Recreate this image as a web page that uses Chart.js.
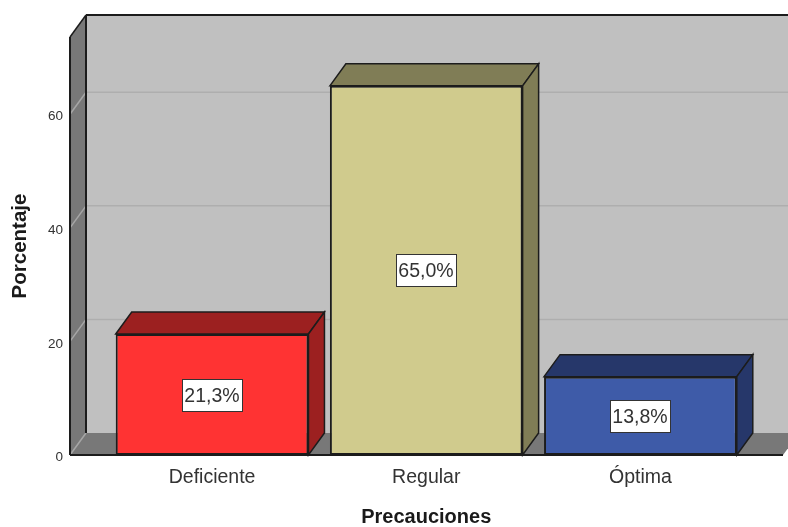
<!DOCTYPE html>
<html>
<head>
<meta charset="utf-8">
<title>Precauciones</title>
<style>
    html, body { margin: 0; padding: 0; background: #fff; }
    #wrap { width: 788px; height: 527px; }
</style>
<script src="https://cdn.jsdelivr.net/npm/chart.js@4/dist/chart.umd.min.js"></script>
</head>
<body>
<div id="wrap"><canvas id="chart" width="788" height="527"></canvas></div>
<script>
// data
const categories = ["Deficiente", "Regular", "Óptima"];
const percentages = [21.3, 65.0, 13.8];
const yTicks = [0, 20, 40, 60];

// colours, same order as categories
const frontColors = ["#FF3333", "#D0CB8D", "#3E5BA8"];
const sideColors = ["#9C2020", "#807D56", "#26376A"];

// depth of the fake 3D box
const DX = 16;
const DY = 22;
const EDGE = "#1c1c1c";

function poly(c, pts, fill, stroke, lw) {
    c.beginPath();
    pts.forEach((p, i) => i ? c.lineTo(p[0], p[1]) : c.moveTo(p[0], p[1]));
    c.closePath();
    if (fill) { c.fillStyle = fill; c.fill(); }
    if (stroke) { c.strokeStyle = stroke; c.lineWidth = lw || 1.5; c.stroke(); }
}

function line(c, x1, y1, x2, y2, color, lw) {
    c.beginPath();
    c.moveTo(x1, y1);
    c.lineTo(x2, y2);
    c.strokeStyle = color;
    c.lineWidth = lw;
    c.stroke();
}

// walls, floor and the side/top faces of the bars
const box3d = {
    id: "box3d",
    beforeDatasetsDraw(chart) {
        const c = chart.ctx;
        const y = chart.scales.y;
        const w = chart.width;
        const left = 70;
        const floorRight = 783;
        const top = chart.chartArea.top;
        const base = y.getPixelForValue(0);

        c.save();
        // back wall
        poly(c, [[left + DX, top - DY], [w + 20, top - DY], [w + 20, base - DY], [left + DX, base - DY]], "#C0C0C0");
        // left wall
        poly(c, [[left, top], [left + DX, top - DY], [left + DX, base - DY], [left, base]], "#787878");
        // floor
        poly(c, [[left, base], [left + DX, base - DY], [floorRight + DX, base - DY], [floorRight, base]], "#787878");

        // gridlines
        yTicks.forEach(t => {
            const py = y.getPixelForValue(t);
            line(c, left, py, left + DX, py - DY, "#A6A6A6", 1.5);
            if (t > 0) line(c, left + DX, py - DY, w + 20, py - DY, "#AEAEAE", 1.5);
        });

        // edges
        line(c, left, top, left + DX, top - DY, EDGE, 1.5);
        line(c, left + DX, top - DY, w + 20, top - DY, EDGE, 2);
        line(c, left + DX, top - DY, left + DX, base - DY, EDGE, 2);
        line(c, left, top, left, base, EDGE, 2);
        line(c, left, base, floorRight, base, EDGE, 2);

        // bar depth faces
        chart.getDatasetMeta(0).data.forEach((bar, i) => {
            const x0 = bar.x - bar.width / 2;
            const x1 = bar.x + bar.width / 2;
            poly(c, [[x0, bar.y], [x0 + DX, bar.y - DY], [x1 + DX, bar.y - DY], [x1, bar.y]], sideColors[i], EDGE, 1.5);
            poly(c, [[x1, bar.y], [x1 + DX, bar.y - DY], [x1 + DX, bar.base - DY], [x1, bar.base]], sideColors[i], EDGE, 1.5);
        });
        c.restore();
    },
    afterDatasetsDraw(chart) {
        const c = chart.ctx;
        c.save();
        c.font = "19.5px 'Liberation Sans', Arial, sans-serif";
        c.textAlign = "center";
        c.textBaseline = "middle";
        chart.getDatasetMeta(0).data.forEach((bar, i) => {
            const label = percentages[i].toFixed(1).replace(".", ",") + "%";
            const midX = Math.round(bar.x);
            const midY = Math.round((bar.y + bar.base) / 2);
            c.fillStyle = "#fff";
            c.fillRect(midX - 29.5, midY - 15.5, 60, 32);
            c.strokeStyle = "#333";
            c.lineWidth = 1;
            c.strokeRect(midX - 29.5, midY - 15.5, 60, 32);
            c.fillStyle = "#333";
            c.fillText(label, midX, midY + 2);
        });
        c.restore();
    }
};

new Chart(document.getElementById("chart"), {
    type: "bar",
    data: {
        labels: categories,
        datasets: [{
            label: "Porcentaje",
            data: percentages,
            backgroundColor: frontColors,
            borderColor: EDGE,
            borderWidth: 2,
            borderSkipped: false,
            barPercentage: 0.9,
            categoryPercentage: 1
        }]
    },
    options: {
        responsive: false,
        animation: false,
        layout: { padding: { top: 37, right: 40.5, left: 0, bottom: 0 } },
        plugins: {
            legend: { display: false },
            tooltip: { enabled: false }
        },
        scales: {
            x: {
                grid: { display: false, drawTicks: false },
                border: { display: false },
                afterFit(scale) { scale.height = 72; },
                ticks: {
                    color: "#333",
                    padding: 11,
                    maxRotation: 0,
                    font: { family: "'Liberation Sans', Arial, sans-serif", size: 19.5 }
                },
                title: {
                    display: true,
                    text: "Precauciones",
                    color: "#1a1a1a",
                    padding: { top: 0, bottom: -2 },
                    font: { family: "'Liberation Sans', Arial, sans-serif", size: 20, weight: "bold" }
                }
            },
            y: {
                min: 0,
                max: 73.6,
                afterFit(scale) {
                    scale.width = 105;
                    // the big tick padding would otherwise push the plot down
                    scale.paddingTop = 0;
                    scale.paddingBottom = 0;
                },
                afterBuildTicks(scale) { scale.ticks = yTicks.map(v => ({ value: v })); },
                grid: { display: false, drawTicks: false },
                border: { display: false },
                ticks: {
                    color: "#333",
                    padding: 42,
                    labelOffset: 2.5,
                    font: { family: "'Liberation Sans', Arial, sans-serif", size: 13.5 }
                },
                title: {
                    display: true,
                    text: "Porcentaje",
                    color: "#1a1a1a",
                    padding: { top: 8, bottom: 0 },
                    font: { family: "'Liberation Sans', Arial, sans-serif", size: 20.5, weight: "bold" }
                }
            }
        }
    },
    plugins: [box3d]
});
</script>
</body>
</html>
